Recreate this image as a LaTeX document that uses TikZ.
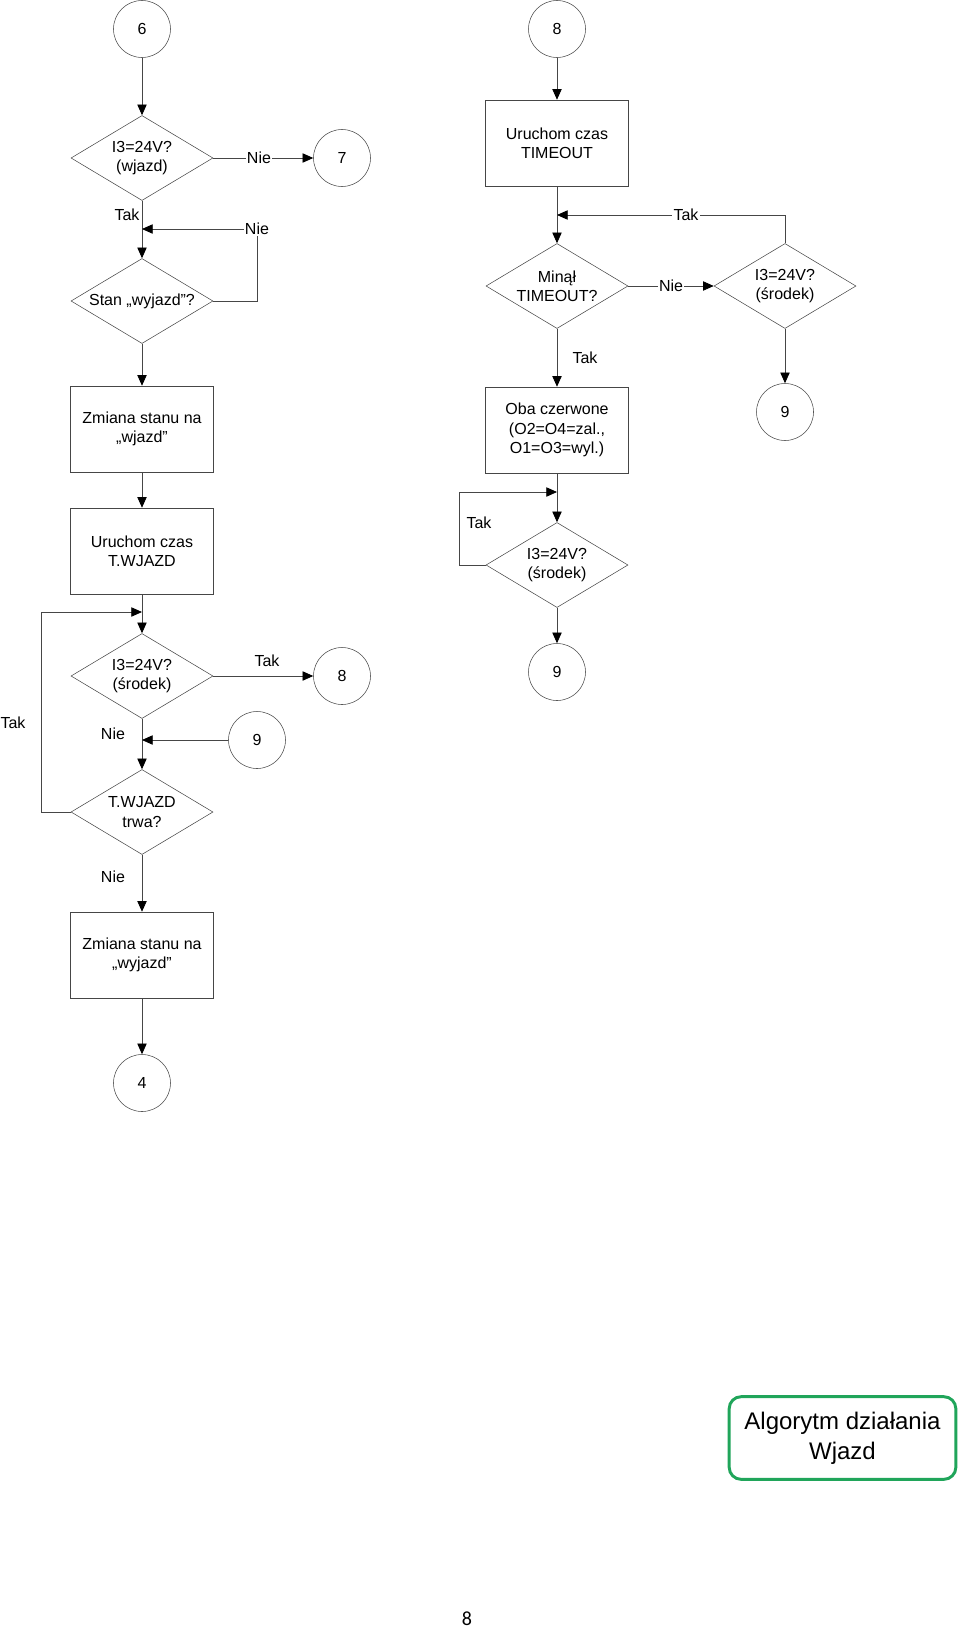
\documentclass[tikz,border=0pt]{standalone}
\usepackage{fontspec}
\setmainfont{Liberation Sans}
\newfontfamily\stronafont{Carlito}
\usetikzlibrary{arrows.meta,shapes.geometric,positioning}
\definecolor{zielonyramki}{RGB}{32,165,90}
\definecolor{liniaszara}{RGB}{70,70,70}
\begin{document}
\begin{tikzpicture}[x=0.75pt,y=0.75pt,yscale=-1,xscale=1,
    tekst/.style={font=\fontsize{12}{14.5}\selectfont,align=center},
    blok/.style={tekst,draw=liniaszara,rectangle,minimum width=107pt,minimum height=64.5pt,inner sep=2pt},
    decyzja/.style={tekst,draw=liniaszara,diamond,aspect=1.67,minimum width=106.5pt,minimum height=63.75pt,inner sep=0pt},
    lacznik/.style={tekst,draw=liniaszara,circle,minimum size=42.75pt,inner sep=0pt},
    etykieta/.style={tekst,inner sep=1pt},
    przerwa/.style={etykieta,fill=white},
    linia/.style={draw=liniaszara,line width=0.6pt},
    strzalka/.style={linia,-{Triangle[length=8pt,width=7pt,color=black]}}]
\useasboundingbox (0,0) rectangle (960,1631);
% lewa kolumna
\node[lacznik] (l6) at (142,29) {6};
\node[decyzja] (wjazd) at (142,158) {I3=24V?\\(wjazd)};
\node[lacznik] (l7) at (342,158) {7};
\node[decyzja] (stan) at (142,301) {Stan „wyjazd”?};
\node[blok] (zmwjazd) at (142,429) {Zmiana stanu na\\„wjazd”};
\node[blok] (twjazd) at (142,551) {Uruchom czas\\T.WJAZD};
\node[decyzja] (srodek) at (142,676) {I3=24V?\\(środek)};
\node[lacznik] (l8) at (342,676) {8};
\node[lacznik] (l9a) at (257,740) {9};
\node[decyzja] (trwa) at (142,812) {T.WJAZD\\trwa?};
\node[blok] (zmwyjazd) at (142,955) {Zmiana stanu na\\„wyjazd”};
\node[lacznik] (l4) at (142,1083) {4};
\coordinate (p1) at (142,229);
\coordinate (r1) at (257,229);
\coordinate (p2) at (142,612);
\coordinate (r2) at (41,612);
\coordinate (p3) at (142,740);
% prawa kolumna
\node[lacznik] (l8b) at (557,29) {8};
\node[blok] (ttimeout) at (557,143) {Uruchom czas\\TIMEOUT};
\node[decyzja] (minal) at (557,286) {Minął\\TIMEOUT?};
\node[decyzja] (srodekb) at (785,286) {I3=24V?\\(środek)};
\node[lacznik] (l9b) at (785,412) {9};
\node[blok] (oba) at (557,430) {Oba czerwone\\(O2=O4=zal.,\\O1=O3=wyl.)};
\node[decyzja] (srodekc) at (557,565) {I3=24V?\\(środek)};
\node[lacznik] (l9c) at (557,672) {9};
\coordinate (p4) at (557,215);
\coordinate (r4) at (785,215);
\coordinate (p5) at (557,492);
\coordinate (r5) at (459,492);
% polaczenia - lewa
\draw[strzalka] (l6) -- (wjazd);
\draw[strzalka] (wjazd) -- (l7);
\draw[strzalka] (wjazd) -- (stan);
\draw[strzalka] (stan.east) -| (r1) -- (p1);
\draw[strzalka] (stan) -- (zmwjazd);
\draw[strzalka] (zmwjazd) -- (twjazd);
\draw[strzalka] (twjazd) -- (srodek);
\draw[strzalka] (trwa.west) -| (r2) -- (p2);
\draw[strzalka] (srodek) -- (l8);
\draw[strzalka] (srodek) -- (trwa);
\draw[strzalka] (l9a) -- (p3);
\draw[strzalka] (trwa) -- (zmwyjazd);
\draw[strzalka] (zmwyjazd) -- (l4);
% polaczenia - prawa
\draw[strzalka] (l8b) -- (ttimeout);
\draw[strzalka] (ttimeout) -- (minal);
\draw[strzalka] (minal) -- (srodekb);
\draw[strzalka] (srodekb.north) |- (p4);
\draw[strzalka] (srodekb) -- (l9b);
\draw[strzalka] (minal) -- (oba);
\draw[strzalka] (oba) -- (srodekc);
\draw[strzalka] (srodekc.west) -| (r5) -- (p5);
\draw[strzalka] (srodekc) -- (l9c);
% etykiety
\node[przerwa] (e1) at (259,158) {Nie};
\node[etykieta,anchor=east] (e2) at (141,215) {Tak};
\node[przerwa] (e3) at (r1) {Nie};
\node[etykieta] (e4) at (267,661) {Tak};
\node[etykieta] (e5) at (13,723) {Tak};
\node[etykieta] (e6) at (113,734) {Nie};
\node[etykieta] (e7) at (113,877) {Nie};
\node[przerwa] (e8) at (671,286) {Nie};
\node[przerwa] (e9) at (686,215) {Tak};
\node[etykieta] (e10) at (585,358) {Tak};
\node[etykieta] (e11) at (479,523) {Tak};
% tytul i numer strony
\node[draw=zielonyramki,line width=2.2pt,rounded corners=9pt,minimum width=170pt,minimum height=62pt,align=center,
    font=\fontsize{18}{22.5}\selectfont] (tytul) at (842.5,1438) {Algorytm działania\\Wjazd};
\node[font=\stronafont\fontsize{15}{18}\selectfont] (nrstrony) at (467,1619) {8};
\end{tikzpicture}
\end{document}
